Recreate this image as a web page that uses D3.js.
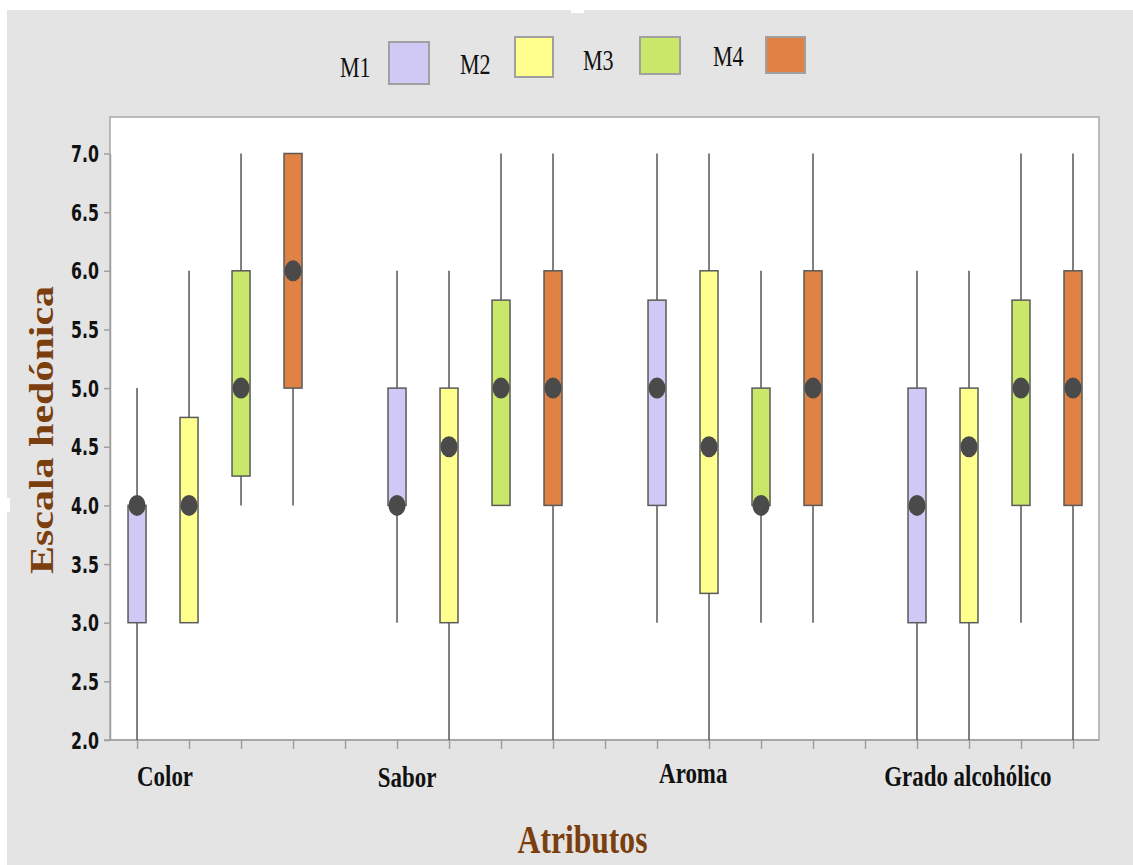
<!DOCTYPE html>
<html>
<head>
<meta charset="utf-8">
<script src="https://cdn.jsdelivr.net/npm/d3@7"></script>
<style>
  html, body { margin: 0; padding: 0; background: #ffffff; }
  svg { display: block; }
</style>
</head>
<body>
<svg id="chart" width="1133" height="865"></svg>
<script>
// ---------------- DATA ----------------
const categories = ["Color", "Sabor", "Aroma", "Grado alcohólico"];
const series = ["M1", "M2", "M3", "M4"];
// per category, per series
const q1 = [[3, 3, 4.25, 5], [4, 3, 4, 4], [4, 3.25, 4, 4], [3, 3, 4, 4]];
const q3 = [[4, 4.75, 6, 7], [5, 5, 5.75, 6], [5.75, 6, 5, 6], [5, 5, 5.75, 6]];
const whiskerLow = [[2, 3, 4, 4], [3, 2, 4, 2], [3, 2, 3, 3], [2, 2, 3, 2]];
const whiskerHigh = [[5, 6, 7, 7], [6, 6, 7, 7], [7, 7, 6, 7], [6, 6, 7, 7]];
const means = [[4, 4, 5, 6], [4, 4.5, 5, 5], [5, 4.5, 4, 5], [4, 4.5, 5, 5]];
const yTicks = [2.0, 2.5, 3.0, 3.5, 4.0, 4.5, 5.0, 5.5, 6.0, 6.5, 7.0];
const seriesColors = ["#d1c9f5", "#ffff8e", "#c9e86a", "#e08244"];
const yTitle = "Escala hedónica";
const xTitle = "Atributos";

// ---------------- LAYOUT ----------------
const W = 1133, H = 865;
const plot = { left: 110, right: 1099, top: 117, bottom: 740 };
const slotsPerGroup = series.length + 1;
const nSlots = categories.length * slotsPerGroup - 1; // 19
const labelSlot = [0, 4.63, 10.04, 14.37]; // where each category label starts
const labelBase = [786, 787, 783, 786];
const textSquish = 0.79;
const brown = "#7a3e0f";

const svg = d3.select("#chart");

// background
svg.append("rect").attr("x", 0).attr("y", 0).attr("width", W).attr("height", H).attr("fill", "#ffffff");
svg.append("rect").attr("x", 7).attr("y", 10).attr("width", W - 7).attr("height", H - 10).attr("fill", "#e4e4e4");
svg.append("rect").attr("x", 571).attr("y", 10).attr("width", 13).attr("height", 3).attr("fill", "#ffffff");
svg.append("rect").attr("x", 0).attr("y", 498).attr("width", 10).attr("height", 14).attr("fill", "#ffffff");

// scales
const x = d3.scaleLinear().domain([-0.52, nSlots - 1 + 0.5]).range([plot.left, plot.right]);
const y = d3.scaleLinear().domain([2, 7]).range([740, 153.5]);

// plot area
svg.append("rect")
  .attr("x", plot.left).attr("y", plot.top)
  .attr("width", plot.right - plot.left).attr("height", plot.bottom - plot.top)
  .attr("fill", "#ffffff").attr("stroke", "#a8a8a8").attr("stroke-width", 1.5);

// y axis
const yAxis = d3.axisLeft(y).tickValues(yTicks).tickSize(6).tickSizeOuter(0).tickFormat(d3.format(".1f"));
const gy = svg.append("g").attr("transform", `translate(${plot.left},0)`).call(yAxis);
gy.select(".domain").attr("stroke", "#a0a0a0").attr("stroke-width", 1.5);
gy.selectAll(".tick line").attr("stroke", "#a0a0a0").attr("stroke-width", 1.5);
gy.selectAll(".tick text")
  .attr("x", null).attr("dy", null)
  .attr("transform", `translate(-11,8) scale(0.7,1)`)
  .attr("text-anchor", "end")
  .attr("fill", "#111")
  .style("font-family", "'DejaVu Sans', sans-serif")
  .style("font-weight", "bold")
  .style("font-size", "22.5px");

// x axis
const xAxis = d3.axisBottom(x).tickValues(d3.range(nSlots)).tickSize(9).tickSizeOuter(0).tickFormat("");
const gx = svg.append("g").attr("transform", `translate(0,${plot.bottom})`).call(xAxis);
gx.select(".domain").remove();
gx.selectAll(".tick line").attr("stroke", "#a0a0a0").attr("stroke-width", 1.5);
svg.append("line")
  .attr("x1", plot.left - 6).attr("x2", plot.right)
  .attr("y1", plot.bottom).attr("y2", plot.bottom)
  .attr("stroke", "#a0a0a0").attr("stroke-width", 1.5);

// boxes data
const boxes = [];
categories.forEach((c, gi) => {
  series.forEach((s, si) => {
    boxes.push({
      slot: gi * slotsPerGroup + si, si,
      lo: whiskerLow[gi][si], hi: whiskerHigh[gi][si],
      q1: q1[gi][si], q3: q3[gi][si], mean: means[gi][si]
    });
  });
});
const boxW = 18;
const gb = svg.append("g");
gb.selectAll("line.whisker").data(boxes).join("line")
  .attr("class", "whisker")
  .attr("x1", d => x(d.slot)).attr("x2", d => x(d.slot))
  .attr("y1", d => y(d.lo)).attr("y2", d => y(d.hi))
  .attr("stroke", "#555").attr("stroke-width", 1.5);
gb.selectAll("rect.box").data(boxes).join("rect")
  .attr("class", "box")
  .attr("x", d => x(d.slot) - boxW / 2).attr("width", boxW)
  .attr("y", d => y(d.q3)).attr("height", d => y(d.q1) - y(d.q3))
  .attr("fill", d => seriesColors[d.si])
  .attr("stroke", "#5a5a5a").attr("stroke-width", 1.5);
gb.selectAll("ellipse.mean").data(boxes).join("ellipse")
  .attr("class", "mean")
  .attr("cx", d => x(d.slot)).attr("cy", d => y(d.mean))
  .attr("rx", 8.5).attr("ry", 10.5)
  .attr("fill", "#4a4a4a");

// category labels
svg.append("g").selectAll("text").data(categories).join("text")
  .attr("transform", (d, i) => `translate(${x(labelSlot[i])},${labelBase[i]}) scale(${textSquish},1)`)
  .attr("text-anchor", "start")
  .attr("fill", "#111")
  .style("font-family", "'Liberation Serif', 'Times New Roman', serif")
  .style("font-weight", "bold")
  .style("font-size", "29px")
  .text(d => d);

// axis titles
svg.append("text")
  .attr("transform", `translate(582.5,853) scale(${textSquish},1)`)
  .attr("text-anchor", "middle")
  .attr("fill", brown)
  .style("font-family", "'Liberation Serif', 'Times New Roman', serif")
  .style("font-weight", "bold")
  .style("font-size", "40px")
  .text(xTitle);
svg.append("text")
  .attr("transform", `translate(53,430) scale(${textSquish},1) rotate(-90)`)
  .attr("text-anchor", "middle")
  .attr("fill", brown)
  .style("font-family", "'Liberation Serif', 'Times New Roman', serif")
  .style("font-weight", "bold")
  .style("font-size", "42px")
  .text(yTitle);

// legend (staggered like the original)
const legendLayout = [
  { tx: 340, ty: 77, sx: 389, sy: 42, sw: 40, sh: 42 },
  { tx: 460, ty: 74, sx: 515, sy: 37, sw: 38, sh: 40 },
  { tx: 583, ty: 70, sx: 640, sy: 37, sw: 40, sh: 37 },
  { tx: 713, ty: 66, sx: 766, sy: 37, sw: 39, sh: 36 }
];
const gl = svg.append("g");
series.forEach((s, i) => {
  const L = legendLayout[i];
  gl.append("text")
    .attr("transform", `translate(${L.tx},${L.ty}) scale(0.76,1)`)
    .attr("fill", "#111")
    .style("font-family", "'Liberation Serif', 'Times New Roman', serif")
    .style("font-size", "29px")
    .text(s);
  gl.append("rect")
    .attr("x", L.sx).attr("y", L.sy).attr("width", L.sw).attr("height", L.sh)
    .attr("fill", seriesColors[i])
    .attr("stroke", "#a0a0a0").attr("stroke-width", 2);
});
</script>
</body>
</html>
